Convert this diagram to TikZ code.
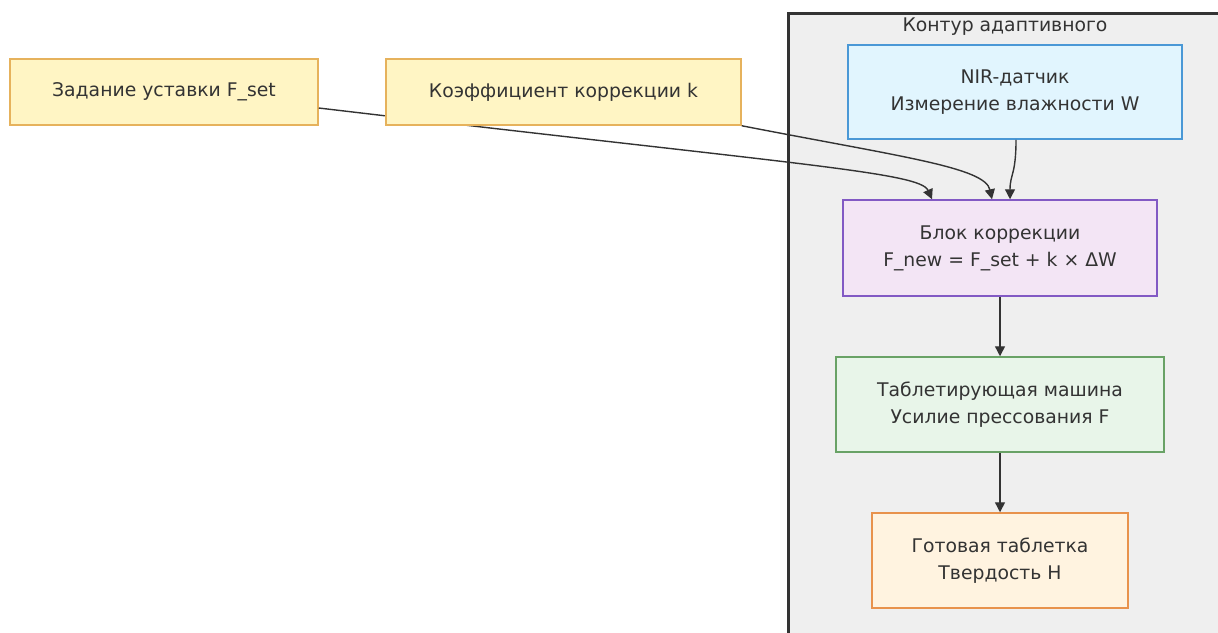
\documentclass[tikz,border=0pt]{standalone}
\usepackage{fontspec}
\setmainfont{DejaVu Sans}
\usetikzlibrary{arrows.meta,calc}

\definecolor{txt}{HTML}{333333}
\definecolor{inFill}{HTML}{FFF5C4}
\definecolor{inLine}{HTML}{E6B25C}
\definecolor{nirFill}{HTML}{E1F5FE}
\definecolor{nirLine}{HTML}{4A98D6}
\definecolor{corFill}{HTML}{F3E5F5}
\definecolor{corLine}{HTML}{8259C4}
\definecolor{preFill}{HTML}{E8F5E9}
\definecolor{preLine}{HTML}{69A266}
\definecolor{tabFill}{HTML}{FFF3E0}
\definecolor{tabLine}{HTML}{E8924C}
\definecolor{grpFill}{HTML}{EFEFEF}

\begin{document}
\begin{tikzpicture}[
  x=0.5pt, y=-0.5pt,
  font=\fontsize{9.4}{13.5}\selectfont, text=txt,
  base/.style={draw, line width=0.75pt, align=center, inner sep=2pt},
  inbox/.style={base, fill=inFill, draw=inLine, minimum height=33pt},
  nirbox/.style={base, fill=nirFill, draw=nirLine},
  corbox/.style={base, fill=corFill, draw=corLine},
  prebox/.style={base, fill=preFill, draw=preLine},
  tabbox/.style={base, fill=tabFill, draw=tabLine},
  arr/.style={-{Triangle[length=5pt,width=5pt]}, draw=txt, line width=0.7pt},
  lbl/.style={inner sep=1pt},
]
\useasboundingbox (0,0) rectangle (1218,632);
\clip (0,0) rectangle (1218,632);

% ---- adaptive loop group ----------------------------------------
\draw[fill=grpFill, draw=txt, line width=1.5pt] (788,13) rectangle (1240,660);
\node[lbl] (title) at (1005,27) {Контур адаптивного};

% ---- nodes ------------------------------------------------------
\node[inbox, minimum width=154pt] (fset) at (164,92) {Задание уставки F\_set};
\node[nirbox, minimum width=167pt, minimum height=47pt] (nir) at (1015,92)
  {NIR-датчик\\Измерение влажности W};
\node[corbox, minimum width=157pt, minimum height=48pt] (corr) at (1000,248)
  {Блок коррекции\\F\_new = F\_set + k × ΔW};
\node[prebox, minimum width=164pt, minimum height=47.5pt] (press) at (1000,404.5)
  {Таблетирующая машина\\Усилие прессования F};
\node[tabbox, minimum width=128pt, minimum height=47.5pt] (tab) at (1000,560.5)
  {Готовая таблетка\\Твердость H};

% set-point line runs under the coefficient box
\draw[arr] ($(fset.east)+(0,16)$) .. controls +(482,57) and +(-12,-27) .. ($(corr.north)+(-68,0)$);

\node[inbox, minimum width=177.5pt] (kcoef) at (563.5,92) {Коэффициент коррекции k};

% ---- arrows -----------------------------------------------------
\draw[arr] (kcoef.south east) .. controls +(159,31) and +(-7,-32) .. ($(corr.north)+(-8,0)$);
\draw[arr] ($(nir.south)+(1,0)$) .. controls +(0,35) and +(0,-25) .. ($(corr.north)+(10,0)$);
\draw[arr] (corr) -- (press);
\draw[arr] (press) -- (tab);

\end{tikzpicture}
\end{document}
